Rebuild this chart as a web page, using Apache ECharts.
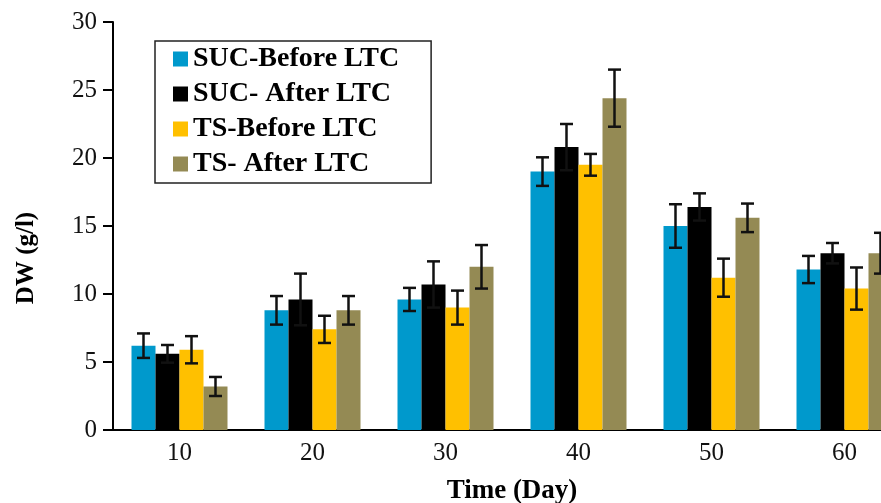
<!DOCTYPE html>
<html>
<head>
<meta charset="utf-8">
<script src="https://cdn.jsdelivr.net/npm/echarts@6/dist/echarts.min.js"></script>
<style>
  html, body { margin: 0; padding: 0; background: #fff; }
  #chart { width: 881px; height: 503px; }
</style>
</head>
<body>
<div id="chart"></div>
<script>
// data
var days = ['10', '20', '30', '40', '50', '60'];
var seriesNames = ['SUC-Before LTC', 'SUC- After LTC', 'TS-Before LTC', 'TS- After LTC'];
var sucBefore = [6.2, 8.8, 9.6, 19.0, 15.0, 11.8];
var sucAfter = [5.6, 9.6, 10.7, 20.8, 16.4, 13.0];
var tsBefore = [5.9, 7.4, 9.0, 19.5, 11.2, 10.4];
var tsAfter = [3.2, 8.8, 12.0, 24.4, 15.6, 13.0];
var sucBeforeErr = [0.9, 1.05, 0.85, 1.05, 1.6, 1.0];
var sucAfterErr = [0.65, 1.9, 1.7, 1.7, 1.0, 0.75];
var tsBeforeErr = [1.0, 1.0, 1.25, 0.8, 1.4, 1.55];
var tsAfterErr = [0.7, 1.05, 1.6, 2.1, 1.05, 1.5];
var yTicks = [0, 5, 10, 15, 20, 25, 30];

var colors = ['#0099CC', '#000000', '#FFC000', '#948A54'];
var means = [sucBefore, sucAfter, tsBefore, tsAfter];
var errs = [sucBeforeErr, sucAfterErr, tsBeforeErr, tsAfterErr];
var barW = 24;
var serif = '"Liberation Serif", "DejaVu Serif", serif';

var series = [];
means.forEach(function (vals, i) {
  series.push({
    name: seriesNames[i],
    type: 'bar',
    data: vals,
    barWidth: barW,
    barGap: '0%',
    itemStyle: { color: colors[i] },
    z: 2
  });
});
means.forEach(function (vals, i) {
  var d = vals.map(function (v, k) { return [k, v - errs[i][k], v + errs[i][k]]; });
  series.push({
    type: 'custom',
    z: 5,
    data: d,
    renderItem: function (params, api) {
      var off = (i - 1.5) * barW;
      var lo = api.coord([api.value(0), api.value(1)]);
      var hi = api.coord([api.value(0), api.value(2)]);
      var x = lo[0] + off;
      var cap = 6.5;
      var st = { stroke: '#111', lineWidth: 2.5 };
      return {
        type: 'group',
        children: [
          { type: 'line', shape: { x1: x, y1: lo[1], x2: x, y2: hi[1] }, style: st },
          { type: 'line', shape: { x1: x - cap, y1: lo[1], x2: x + cap, y2: lo[1] }, style: st },
          { type: 'line', shape: { x1: x - cap, y1: hi[1], x2: x + cap, y2: hi[1] }, style: st }
        ]
      };
    }
  });
});

var chart = echarts.init(document.getElementById('chart'));
chart.setOption({
  animation: false,
  backgroundColor: '#fff',
  grid: { left: 113, top: 22, width: 798, height: 408, outerBoundsMode: 'none' },
  legend: {
    data: seriesNames,
    orient: 'vertical',
    left: 155,
    top: 41,
    itemWidth: 15,
    itemHeight: 15,
    itemGap: 7,
    icon: 'rect',
    borderColor: '#222',
    borderWidth: 1.5,
    padding: [4, 32, 5, 18],
    textStyle: { fontFamily: serif, fontWeight: 'bold', fontSize: 28, color: '#000' }
  },
  xAxis: {
    type: 'category',
    data: days,
    name: 'Time (Day)',
    nameLocation: 'middle',
    nameGap: 48,
    nameTextStyle: { fontFamily: serif, fontWeight: 'bold', fontSize: 27, color: '#000' },
    axisLine: { lineStyle: { color: '#000', width: 2 } },
    axisTick: { show: false },
    axisLabel: { fontFamily: serif, fontSize: 25, color: '#111', margin: 11 }
  },
  yAxis: {
    type: 'value',
    min: yTicks[0],
    max: yTicks[yTicks.length - 1],
    interval: 5,
    name: 'DW (g/l)',
    nameLocation: 'middle',
    nameGap: 74,
    nameTextStyle: { fontFamily: serif, fontWeight: 'bold', fontSize: 25, color: '#000', padding: [0, 64, 0, 0] },
    axisLine: { show: true, lineStyle: { color: '#000', width: 2 } },
    axisTick: { show: true, length: 10, lineStyle: { color: '#000', width: 2 } },
    axisLabel: { fontFamily: serif, fontSize: 25, color: '#111', margin: 16 },
    splitLine: { show: false }
  },
  series: series
});
</script>
</body>
</html>
